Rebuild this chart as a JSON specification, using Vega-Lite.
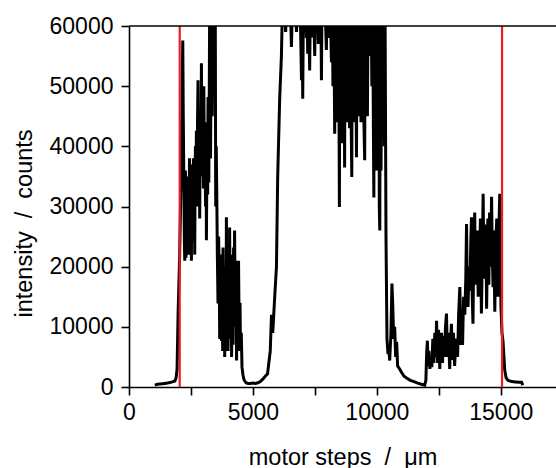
{
  "$schema": "https://vega.github.io/schema/vega-lite/v6.json",
  "width": 427,
  "height": 361,
  "autosize": {"type": "none"},
  "padding": {"left": 129, "top": 26, "right": 0, "bottom": 81},
  "background": "white",
  "config": {
    "view": {"stroke": null},
    "axis": {
      "grid": false,
      "domainColor": "black",
      "domainWidth": 1.6,
      "tickColor": "black",
      "tickWidth": 1.6,
      "tickSize": 8,
      "labelColor": "black",
      "labelFont": "Liberation Sans",
      "labelFontSize": 23,
      "titleColor": "black",
      "titleFont": "Liberation Sans",
      "titleFontSize": 23.5,
      "titleFontWeight": "normal",
      "labelFlush": false,
      "labelOverlap": false
    }
  },
  "datasets": {
    "trace": [
      {"x": 1040, "y": 300}, {"x": 1150, "y": 450}, {"x": 1250, "y": 500}, {"x": 1350, "y": 550}, {"x": 1450, "y": 600},
      {"x": 1550, "y": 650}, {"x": 1650, "y": 750}, {"x": 1750, "y": 850}, {"x": 1850, "y": 1000}, {"x": 1900, "y": 1500},
      {"x": 1940, "y": 3000}, {"x": 1980, "y": 12000}, {"x": 2045, "y": 22000}, {"x": 2100, "y": 35000}, {"x": 2170, "y": 57600},
      {"x": 2190, "y": 45000}, {"x": 2205, "y": 38000}, {"x": 2220, "y": 30500}, {"x": 2235, "y": 24000}, {"x": 2250, "y": 21000},
      {"x": 2265, "y": 30000}, {"x": 2276, "y": 36000}, {"x": 2290, "y": 27000}, {"x": 2300, "y": 21500}, {"x": 2310, "y": 26000},
      {"x": 2317, "y": 30000}, {"x": 2330, "y": 35000}, {"x": 2350, "y": 23000}, {"x": 2365, "y": 30000}, {"x": 2381, "y": 22000},
      {"x": 2395, "y": 34000}, {"x": 2410, "y": 31000}, {"x": 2425, "y": 25000}, {"x": 2440, "y": 38000}, {"x": 2455, "y": 31000},
      {"x": 2470, "y": 26000}, {"x": 2480, "y": 22000}, {"x": 2495, "y": 33000}, {"x": 2510, "y": 27000}, {"x": 2518, "y": 21000},
      {"x": 2535, "y": 37000}, {"x": 2550, "y": 33000}, {"x": 2565, "y": 26000}, {"x": 2583, "y": 29000}, {"x": 2600, "y": 38000},
      {"x": 2620, "y": 24000}, {"x": 2636, "y": 34000}, {"x": 2652, "y": 22000}, {"x": 2668, "y": 36000}, {"x": 2680, "y": 40000},
      {"x": 2700, "y": 33000}, {"x": 2720, "y": 42600}, {"x": 2735, "y": 35000}, {"x": 2750, "y": 30000}, {"x": 2765, "y": 44000},
      {"x": 2785, "y": 51000}, {"x": 2800, "y": 40000}, {"x": 2820, "y": 33000}, {"x": 2835, "y": 46000}, {"x": 2853, "y": 28000},
      {"x": 2870, "y": 41000}, {"x": 2890, "y": 45000}, {"x": 2905, "y": 36000}, {"x": 2922, "y": 53800}, {"x": 2940, "y": 42000},
      {"x": 2955, "y": 35000}, {"x": 2970, "y": 47000}, {"x": 2987, "y": 39000}, {"x": 3005, "y": 33000}, {"x": 3020, "y": 50000},
      {"x": 3038, "y": 38000}, {"x": 3055, "y": 43100}, {"x": 3072, "y": 36000}, {"x": 3090, "y": 30000}, {"x": 3107, "y": 44000},
      {"x": 3124, "y": 24400}, {"x": 3142, "y": 36000}, {"x": 3160, "y": 40000}, {"x": 3175, "y": 32000}, {"x": 3188, "y": 48200},
      {"x": 3205, "y": 40000}, {"x": 3220, "y": 34000}, {"x": 3240, "y": 50000}, {"x": 3257, "y": 65000}, {"x": 3290, "y": 38000},
      {"x": 3326, "y": 65000}, {"x": 3360, "y": 45000}, {"x": 3400, "y": 65000}, {"x": 3440, "y": 52000}, {"x": 3480, "y": 65000},
      {"x": 3499, "y": 30000}, {"x": 3520, "y": 40000}, {"x": 3540, "y": 33000}, {"x": 3565, "y": 22000}, {"x": 3592, "y": 13900},
      {"x": 3615, "y": 25000}, {"x": 3640, "y": 20000}, {"x": 3660, "y": 8000}, {"x": 3680, "y": 11000}, {"x": 3705, "y": 22000},
      {"x": 3729, "y": 7700}, {"x": 3745, "y": 14000}, {"x": 3760, "y": 18000}, {"x": 3780, "y": 6000}, {"x": 3794, "y": 23200},
      {"x": 3812, "y": 14000}, {"x": 3830, "y": 10000}, {"x": 3846, "y": 20000}, {"x": 3862, "y": 5000}, {"x": 3880, "y": 18000},
      {"x": 3900, "y": 15000}, {"x": 3915, "y": 6000}, {"x": 3930, "y": 28200}, {"x": 3945, "y": 16000}, {"x": 3960, "y": 12000},
      {"x": 3978, "y": 24000}, {"x": 3996, "y": 6000}, {"x": 4012, "y": 14000}, {"x": 4030, "y": 20000}, {"x": 4045, "y": 9000},
      {"x": 4060, "y": 26500}, {"x": 4080, "y": 14000}, {"x": 4100, "y": 8000}, {"x": 4120, "y": 22000}, {"x": 4140, "y": 5000},
      {"x": 4160, "y": 12000}, {"x": 4180, "y": 20000}, {"x": 4200, "y": 7000}, {"x": 4220, "y": 23200}, {"x": 4240, "y": 12000},
      {"x": 4260, "y": 26000}, {"x": 4280, "y": 16000}, {"x": 4300, "y": 10000}, {"x": 4320, "y": 21000}, {"x": 4340, "y": 4400},
      {"x": 4360, "y": 12000}, {"x": 4380, "y": 15000}, {"x": 4400, "y": 6000}, {"x": 4420, "y": 21000}, {"x": 4440, "y": 12000},
      {"x": 4460, "y": 9000}, {"x": 4480, "y": 14000}, {"x": 4500, "y": 6000}, {"x": 4530, "y": 9000}, {"x": 4560, "y": 3300},
      {"x": 4600, "y": 2000}, {"x": 4640, "y": 1200}, {"x": 4720, "y": 700},
      {"x": 4800, "y": 600}, {"x": 4900, "y": 600}, {"x": 5000, "y": 650}, {"x": 5100, "y": 600}, {"x": 5200, "y": 700},
      {"x": 5300, "y": 900}, {"x": 5400, "y": 1300}, {"x": 5500, "y": 1800}, {"x": 5590, "y": 2200}, {"x": 5700, "y": 6000},
      {"x": 5750, "y": 12000}, {"x": 5800, "y": 9000}, {"x": 5880, "y": 15000}, {"x": 5950, "y": 20000}, {"x": 6000, "y": 35000},
      {"x": 6080, "y": 47900}, {"x": 6150, "y": 55000}, {"x": 6200, "y": 65000},
      {"x": 6260, "y": 65000}, {"x": 6320, "y": 59000}, {"x": 6380, "y": 65000}, {"x": 6500, "y": 65000}, {"x": 6555, "y": 56500},
      {"x": 6600, "y": 65000}, {"x": 6680, "y": 65000}, {"x": 6760, "y": 59000}, {"x": 6820, "y": 65000}, {"x": 6900, "y": 65000},
      {"x": 6960, "y": 51000}, {"x": 6985, "y": 65000}, {"x": 7010, "y": 47900}, {"x": 7040, "y": 65000}, {"x": 7100, "y": 65000},
      {"x": 7160, "y": 58000}, {"x": 7185, "y": 65000}, {"x": 7210, "y": 55400}, {"x": 7240, "y": 65000}, {"x": 7290, "y": 52600},
      {"x": 7320, "y": 65000}, {"x": 7360, "y": 59000}, {"x": 7390, "y": 65000}, {"x": 7415, "y": 58100}, {"x": 7440, "y": 65000},
      {"x": 7495, "y": 55000}, {"x": 7520, "y": 65000}, {"x": 7580, "y": 65000}, {"x": 7640, "y": 57000}, {"x": 7680, "y": 65000},
      {"x": 7740, "y": 65000}, {"x": 7765, "y": 51000}, {"x": 7790, "y": 65000}, {"x": 7860, "y": 60000}, {"x": 7900, "y": 65000},
      {"x": 7965, "y": 56000}, {"x": 7990, "y": 65000}, {"x": 8040, "y": 65000}, {"x": 8080, "y": 58000}, {"x": 8110, "y": 65000},
      {"x": 8170, "y": 54000}, {"x": 8200, "y": 65000}, {"x": 8230, "y": 50000}, {"x": 8260, "y": 65000}, {"x": 8300, "y": 42100},
      {"x": 8320, "y": 65000}, {"x": 8350, "y": 48000}, {"x": 8380, "y": 65000}, {"x": 8410, "y": 44000}, {"x": 8440, "y": 65000},
      {"x": 8470, "y": 50000}, {"x": 8490, "y": 29900}, {"x": 8510, "y": 65000}, {"x": 8540, "y": 45000}, {"x": 8570, "y": 65000},
      {"x": 8610, "y": 40500}, {"x": 8630, "y": 65000}, {"x": 8660, "y": 45000}, {"x": 8680, "y": 65000}, {"x": 8700, "y": 36500},
      {"x": 8720, "y": 62000}, {"x": 8750, "y": 47000}, {"x": 8770, "y": 65000}, {"x": 8790, "y": 44000}, {"x": 8820, "y": 65000},
      {"x": 8850, "y": 52000}, {"x": 8870, "y": 65000}, {"x": 8900, "y": 43000}, {"x": 8930, "y": 60000}, {"x": 8960, "y": 46000},
      {"x": 8990, "y": 34900}, {"x": 9010, "y": 65000}, {"x": 9040, "y": 48000}, {"x": 9070, "y": 65000}, {"x": 9100, "y": 44000},
      {"x": 9130, "y": 65000}, {"x": 9160, "y": 50000}, {"x": 9180, "y": 38200}, {"x": 9200, "y": 65000}, {"x": 9230, "y": 45000},
      {"x": 9260, "y": 62000}, {"x": 9290, "y": 48000}, {"x": 9310, "y": 45000}, {"x": 9330, "y": 65000}, {"x": 9360, "y": 44000},
      {"x": 9390, "y": 65000}, {"x": 9420, "y": 52000}, {"x": 9450, "y": 65000}, {"x": 9480, "y": 44000}, {"x": 9510, "y": 37700},
      {"x": 9530, "y": 65000}, {"x": 9560, "y": 55000}, {"x": 9590, "y": 65000}, {"x": 9620, "y": 45000}, {"x": 9650, "y": 65000},
      {"x": 9680, "y": 55000}, {"x": 9715, "y": 65000}, {"x": 9740, "y": 58000}, {"x": 9770, "y": 65000}, {"x": 9800, "y": 50000},
      {"x": 9830, "y": 65000}, {"x": 9860, "y": 44000}, {"x": 9880, "y": 31500}, {"x": 9900, "y": 65000}, {"x": 9930, "y": 42000},
      {"x": 9960, "y": 65000}, {"x": 9990, "y": 36000}, {"x": 10020, "y": 65000}, {"x": 10050, "y": 40000}, {"x": 10080, "y": 65000},
      {"x": 10100, "y": 30000}, {"x": 10120, "y": 26000}, {"x": 10140, "y": 65000}, {"x": 10170, "y": 36000}, {"x": 10200, "y": 65000},
      {"x": 10230, "y": 42000}, {"x": 10260, "y": 65000}, {"x": 10300, "y": 40000}, {"x": 10330, "y": 65000}, {"x": 10370, "y": 25000},
      {"x": 10410, "y": 8000}, {"x": 10450, "y": 5500}, {"x": 10490, "y": 6000}, {"x": 10520, "y": 4400}, {"x": 10570, "y": 9000},
      {"x": 10610, "y": 17200}, {"x": 10640, "y": 14000}, {"x": 10680, "y": 8000}, {"x": 10720, "y": 10000}, {"x": 10760, "y": 5000},
      {"x": 10800, "y": 7500}, {"x": 10840, "y": 3500}, {"x": 10920, "y": 3000}, {"x": 11000, "y": 2400}, {"x": 11100, "y": 1800},
      {"x": 11200, "y": 1500}, {"x": 11350, "y": 1100}, {"x": 11500, "y": 900}, {"x": 11650, "y": 650}, {"x": 11800, "y": 450},
      {"x": 11930, "y": 300}, {"x": 11980, "y": 1100}, {"x": 12010, "y": 5500}, {"x": 12040, "y": 7700}, {"x": 12070, "y": 3500},
      {"x": 12100, "y": 6000}, {"x": 12140, "y": 3000}, {"x": 12180, "y": 5000}, {"x": 12220, "y": 3300}, {"x": 12260, "y": 8000},
      {"x": 12300, "y": 4000}, {"x": 12340, "y": 9000}, {"x": 12380, "y": 5000}, {"x": 12410, "y": 11000}, {"x": 12450, "y": 4000},
      {"x": 12490, "y": 9500}, {"x": 12540, "y": 3000}, {"x": 12580, "y": 8000}, {"x": 12610, "y": 9000}, {"x": 12650, "y": 4000},
      {"x": 12690, "y": 8500}, {"x": 12730, "y": 5000}, {"x": 12770, "y": 10000}, {"x": 12810, "y": 12200}, {"x": 12850, "y": 5000},
      {"x": 12890, "y": 9000}, {"x": 12940, "y": 3000}, {"x": 12980, "y": 8000}, {"x": 13010, "y": 10500}, {"x": 13050, "y": 4500},
      {"x": 13090, "y": 9000}, {"x": 13140, "y": 3500}, {"x": 13180, "y": 7000}, {"x": 13220, "y": 8000}, {"x": 13260, "y": 5000},
      {"x": 13300, "y": 12000}, {"x": 13350, "y": 16600}, {"x": 13390, "y": 7000}, {"x": 13420, "y": 9000}, {"x": 13460, "y": 7000},
      {"x": 13500, "y": 15000}, {"x": 13550, "y": 12000}, {"x": 13590, "y": 18000}, {"x": 13620, "y": 27100}, {"x": 13650, "y": 16000},
      {"x": 13680, "y": 13300}, {"x": 13720, "y": 20000}, {"x": 13760, "y": 16000}, {"x": 13790, "y": 24000}, {"x": 13820, "y": 28200},
      {"x": 13850, "y": 15000}, {"x": 13880, "y": 10500}, {"x": 13910, "y": 22000}, {"x": 13950, "y": 29000}, {"x": 13980, "y": 17000},
      {"x": 14020, "y": 19000}, {"x": 14050, "y": 26000}, {"x": 14090, "y": 15000}, {"x": 14120, "y": 25000}, {"x": 14150, "y": 22000},
      {"x": 14180, "y": 28000}, {"x": 14220, "y": 12200}, {"x": 14250, "y": 20000}, {"x": 14290, "y": 32100}, {"x": 14320, "y": 20000},
      {"x": 14360, "y": 18000}, {"x": 14400, "y": 27000}, {"x": 14430, "y": 13000}, {"x": 14460, "y": 22000}, {"x": 14480, "y": 28000},
      {"x": 14520, "y": 17000}, {"x": 14550, "y": 29000}, {"x": 14590, "y": 20000}, {"x": 14630, "y": 31600}, {"x": 14660, "y": 22000},
      {"x": 14690, "y": 16600}, {"x": 14720, "y": 26000}, {"x": 14760, "y": 12500}, {"x": 14800, "y": 24000}, {"x": 14840, "y": 28000},
      {"x": 14880, "y": 15000}, {"x": 14920, "y": 25000}, {"x": 14960, "y": 32100}, {"x": 14990, "y": 20000}, {"x": 15010, "y": 13300},
      {"x": 15050, "y": 9000}, {"x": 15090, "y": 7700}, {"x": 15130, "y": 5000}, {"x": 15160, "y": 2800}, {"x": 15220, "y": 1500},
      {"x": 15300, "y": 1100}, {"x": 15450, "y": 900}, {"x": 15600, "y": 850}, {"x": 15750, "y": 800}, {"x": 15840, "y": 800},
      {"x": 15890, "y": 300}
    ],
    "markers": [{"x": 2046}, {"x": 15053}],
    "frame": [{"y": 60000}]
  },
  "layer": [
    {
      "data": {"name": "trace"},
      "mark": {"type": "line", "color": "black", "strokeWidth": 3, "clip": true, "strokeJoin": "miter"},
      "encoding": {
        "x": {
          "field": "x", "type": "quantitative",
          "scale": {"domain": [0, 17230], "nice": false},
          "axis": {
            "title": "motor steps\u00a0\u00a0/\u00a0\u00a0μm",
            "values": [0, 2500, 5000, 7500, 10000, 12500, 15000],
            "labelExpr": "datum.value % 5000 === 0 ? format(datum.value, 'd') : ''",
            "encode": {"ticks": {"update": {"y2": {"signal": "datum.value % 5000 === 0 ? 8 : 5"}}}},
            "labelPadding": 6,
            "titlePadding": 21
          }
        },
        "y": {
          "field": "y", "type": "quantitative",
          "scale": {"domain": [0, 60000], "nice": false},
          "axis": {
            "title": "intensity\u00a0\u00a0/\u00a0\u00a0counts",
            "values": [0, 5000, 10000, 15000, 20000, 25000, 30000, 35000, 40000, 45000, 50000, 55000, 60000],
            "labelExpr": "datum.value % 10000 === 0 ? format(datum.value, 'd') : ''",
            "encode": {"ticks": {"update": {"x2": {"signal": "datum.value % 10000 === 0 ? -8 : -5"}}}},
            "labelPadding": 8,
            "titlePadding": 13,
            "titleY": 197
          }
        }
      }
    },
    {
      "data": {"name": "markers"},
      "mark": {"type": "rule", "color": "#ee1c1c", "strokeWidth": 2.2},
      "encoding": {"x": {"field": "x", "type": "quantitative"}}
    },
    {
      "data": {"name": "frame"},
      "mark": {"type": "rule", "color": "black", "strokeWidth": 1.6},
      "encoding": {"y": {"field": "y", "type": "quantitative"}}
    }
  ]
}
